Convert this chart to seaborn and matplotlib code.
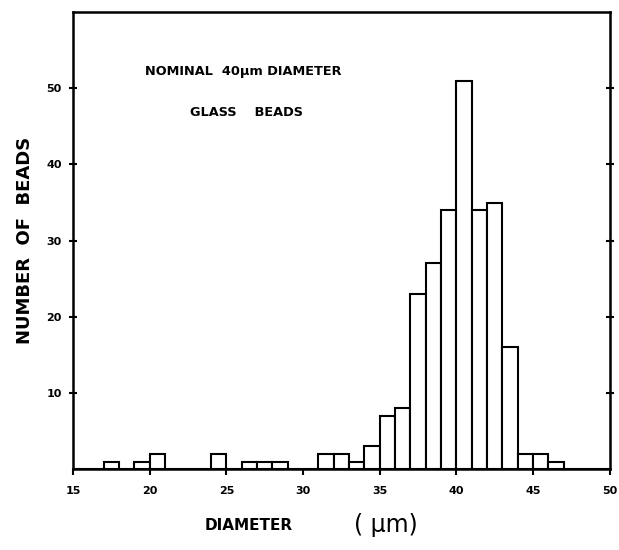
import numpy as np
import pandas as pd
import matplotlib
matplotlib.use("Agg")
import matplotlib.pyplot as plt
import seaborn as sns

# bead counts per 1 um diameter bin (left edge of bin)
bin_left = [17, 19, 20, 24, 26, 27, 28, 31, 32, 33, 34, 35, 36, 37,
            38, 39, 40, 41, 42, 43, 44, 45, 46]
counts = [1, 1, 2, 2, 1, 1, 1, 2, 2, 1, 3, 7, 8, 23,
          27, 34, 51, 34, 35, 16, 2, 2, 1]
x_ticks = [15, 20, 25, 30, 35, 40, 45, 50]
y_ticks = [10, 20, 30, 40, 50]

sns.set_style("ticks", {'axes.edgecolor': 'black', 'text.color': 'black',
                        'xtick.color': 'black', 'ytick.color': 'black',
                        'axes.labelcolor': 'black'})
plt.rcParams['font.family'] = ['DejaVu Sans']

fig = plt.figure(figsize=(6.19, 5.5), dpi=100)
ax = fig.add_axes([0.118, 0.147, 0.867, 0.831])

df = pd.DataFrame({'diameter': np.array(bin_left) + 0.5, 'n': counts})
sns.histplot(data=df, x='diameter', weights='n', binwidth=1, binrange=(15, 50),
             color='white', edgecolor='black', linewidth=1.5, alpha=1, ax=ax)

ax.set_xlim(15, 50)
ax.set_ylim(0, 60)
ax.set_xticks(x_ticks)
ax.set_yticks(y_ticks)
ax.set_xticklabels([str(t) for t in x_ticks], fontsize=8, fontweight='bold')
ax.set_yticklabels([str(t) for t in y_ticks], fontsize=8, fontweight='bold')
ax.tick_params(axis='x', direction='out', length=4, width=1.5, pad=8)
ax.tick_params(axis='y', right=True, direction='inout', length=6, width=1.5, pad=5)
for s in ax.spines.values():
    s.set_linewidth(1.8)

ax.set_xlabel('')
ax.set_ylabel('NUMBER  OF  BEADS', fontsize=13, fontweight='bold', labelpad=9)

ax.text(0.134, 0.869, 'NOMINAL  40\u03bcm DIAMETER', transform=ax.transAxes,
        fontsize=9.3, fontweight='bold', va='center')
ax.text(0.218, 0.781, 'GLASS    BEADS', transform=ax.transAxes,
        fontsize=9.3, fontweight='bold', va='center')

fig.text(0.33, 0.045, 'DIAMETER', fontsize=11, fontweight='bold', va='center')
fig.text(0.572, 0.045, '( \u03bcm)', fontsize=17, va='center')

fig.savefig('out.png', dpi=100)
